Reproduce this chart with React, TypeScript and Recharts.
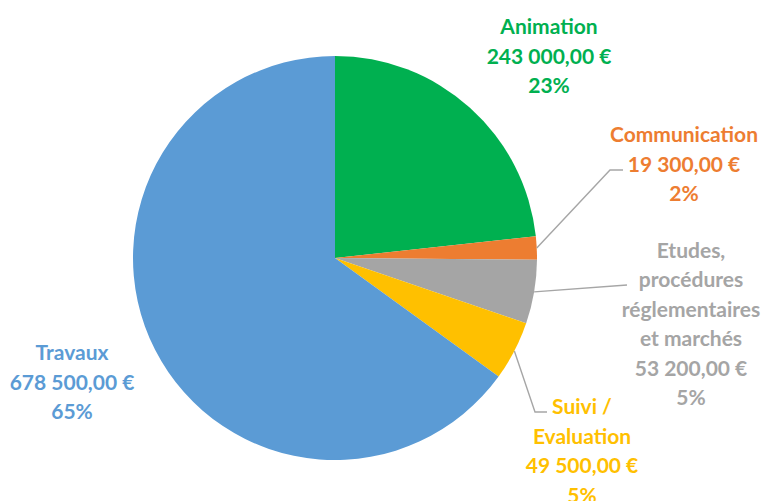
import { Cell, Pie, PieChart } from "recharts";

const CATEGORIES = [
  "Animation",
  "Communication",
  "Etudes,\nprocédures\nréglementaires\net marchés",
  "Suivi /\nEvaluation",
  "Travaux",
];
const AMOUNTS = [243000, 19300, 53200, 49500, 678500];
const COLORS = ["#00B050", "#ED7D31", "#A5A5A5", "#FFC000", "#5B9BD5"];

// label block centre + optional leader path, relative to the pie centre
const LABEL_LAYOUT: { dx: number; dy: number; leader?: [number, number][] }[] = [
  { dx: 214, dy: -203 },
  { dx: 349, dy: -95, leader: [[275, -88], [288, -88]] },
  { dx: 356, dy: 65, leader: [[292, 27]] },
  { dx: 247, dy: 192, leader: [[200, 154], [212, 154]] },
  { dx: -263, dy: 123 },
];

const FONT = "Lato, 'Open Sans', sans-serif";
const LINE_H = 29.5;
const RAD = Math.PI / 180;

const data = CATEGORIES.map((name, i) => ({ name, value: AMOUNTS[i] }));

function euro(v: number) {
  const int = Math.floor(v)
    .toString()
    .replace(/\B(?=(\d{3})+(?!\d))/g, " ");
  return `${int},00 €`;
}

function renderLabel(props: any) {
  const { cx, cy, midAngle, outerRadius, percent, index } = props;
  const layout = LABEL_LAYOUT[index];
  const lines = [
    ...CATEGORIES[index].split("\n"),
    euro(AMOUNTS[index]),
    `${Math.round(percent * 100)}%`,
  ];
  const x = cx + layout.dx;
  const top = cy + layout.dy - ((lines.length - 1) * LINE_H) / 2;

  let path = "";
  if (layout.leader) {
    const sx = cx + outerRadius * Math.cos(-midAngle * RAD);
    const sy = cy + outerRadius * Math.sin(-midAngle * RAD);
    path = `M${sx},${sy}` + layout.leader.map(([px, py]) => `L${cx + px},${cy + py}`).join("");
  }

  return (
    <g key={`lbl-${index}`}>
      {path && <path d={path} stroke="#A6A6A6" strokeWidth={1.4} fill="none" />}
      {lines.map((t, j) => (
        <text
          key={j}
          x={x}
          y={top + j * LINE_H}
          textAnchor="middle"
          dominantBaseline="central"
          fill={COLORS[index]}
          fontFamily={FONT}
          fontWeight={700}
          fontSize={21}
        >
          {t}
        </text>
      ))}
    </g>
  );
}

export default function App() {
  return (
    <div style={{ position: "absolute", left: 0, top: 0, background: "#fff" }}>
      <PieChart width={768} height={501} margin={{ top: 0, right: 0, bottom: 0, left: 0 }}>
        <Pie
          data={data}
          dataKey="value"
          nameKey="name"
          cx={335}
          cy={258}
          outerRadius={202}
          startAngle={90}
          endAngle={-270}
          stroke="none"
          labelLine={false}
          label={renderLabel}
          isAnimationActive={false}
        >
          {data.map((d, i) => (
            <Cell key={d.name} fill={COLORS[i]} />
          ))}
        </Pie>
      </PieChart>
    </div>
  );
}
